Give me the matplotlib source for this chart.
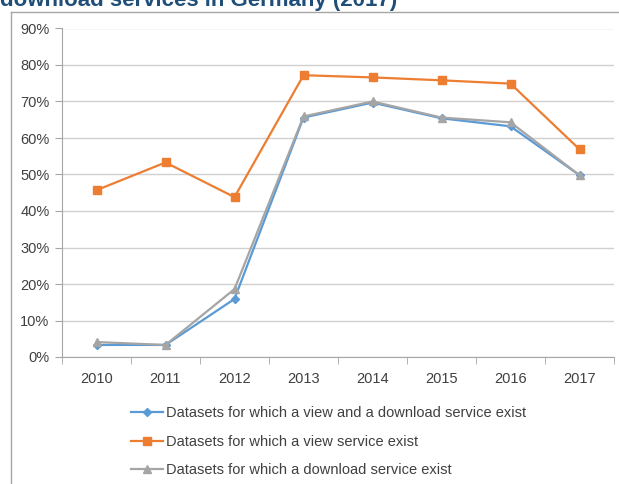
import matplotlib
matplotlib.use('Agg')
import matplotlib.pyplot as plt
from matplotlib.lines import Line2D
from matplotlib.ticker import FuncFormatter

years = ['2010', '2011', '2012', '2013', '2014', '2015', '2016', '2017']
view_and_download = [3.3, 3.3, 15.9, 65.6, 69.7, 65.4, 63.2, 49.8]
view_only = [45.7, 53.3, 43.8, 77.2, 76.6, 75.8, 74.9, 56.9]
download_only = [4.1, 3.3, 18.6, 65.9, 70.0, 65.6, 64.3, 49.8]
labels = ['Datasets for which a view and a download service exist',
          'Datasets for which a view service exist',
          'Datasets for which a download service exist']
title = 'download services in Germany (2017)'

plt.rcParams['font.family'] = ['Liberation Sans', 'DejaVu Sans']

fig = plt.figure(figsize=(6.19, 4.84), dpi=100)
ax = fig.add_axes([62/619, 1 - 357/484, (614 - 62)/619, (357 - 28.5)/484])

x = list(range(len(years)))
l1, = ax.plot(x, view_and_download, color='#5B9BD5', lw=1.6, marker='D', ms=4, zorder=3)
l2, = ax.plot(x, view_only, color='#ED7D31', lw=1.6, marker='s', ms=6, zorder=3)
l3, = ax.plot(x, download_only, color='#A5A5A5', lw=1.6, marker='^', ms=6, zorder=4)

ax.set_xlim(-0.5, len(years) - 0.5)
ax.set_ylim(0, 90)
ax.set_yticks(range(0, 91, 10))
ax.yaxis.set_major_formatter(FuncFormatter(lambda v, p: '{0}%'.format(int(v))))
ax.set_xticks(x)
ax.set_xticklabels(years)
ax.set_xticks([i - 0.5 for i in range(len(years) + 1)], minor=True)
ax.tick_params(axis='x', which='major', length=0, pad=11, labelsize=10.5, colors='#404040')
ax.tick_params(axis='x', which='minor', length=5, color='#A6A6A6', direction='out')
ax.tick_params(axis='y', length=5, color='#A6A6A6', pad=4, labelsize=10.5, labelcolor='#404040')

ax.grid(axis='y', color='#D0D0D0', lw=1)
ax.set_axisbelow(True)
for s in ['top', 'right']:
    ax.spines[s].set_visible(False)
ax.spines['left'].set_color('#A6A6A6')
ax.spines['bottom'].set_color('#A6A6A6')

fig.legend([l1, l2, l3], labels, loc='upper left', bbox_to_anchor=(118/619, 1 - 393/484),
           frameon=False, fontsize=10.5, handlelength=2.2, handletextpad=0.2,
           labelspacing=1.0, labelcolor='#404040')

# outer frame (chart area border, partly cropped)
fig.add_artist(Line2D([11/619, 11/619], [0, 1 - 12/484], transform=fig.transFigure, color='#A6A6A6', lw=1))
fig.add_artist(Line2D([11/619, 1], [1 - 12/484, 1 - 12/484], transform=fig.transFigure, color='#A6A6A6', lw=1))

fig.text(0, 1 - 6/484, title, fontsize=16, fontweight='bold', color='#1F4E79', va='baseline', ha='left')

fig.savefig('out.png', dpi=100)
